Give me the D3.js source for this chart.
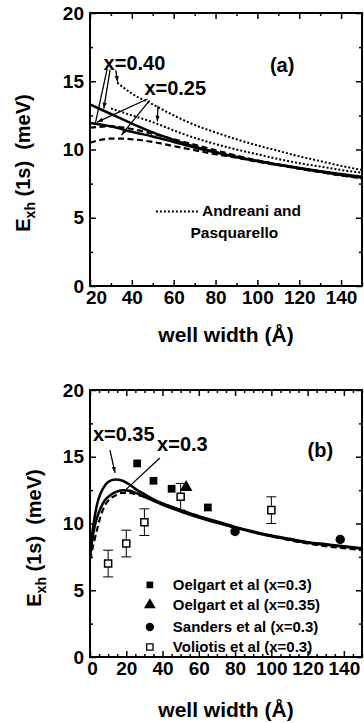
<!DOCTYPE html>
<html><head><meta charset="utf-8">
<script src="https://cdn.jsdelivr.net/npm/d3@7"></script>
<style>
html,body{margin:0;padding:0;background:#fff;}
svg{display:block;}
text{font-family:"Liberation Sans",Arial,sans-serif;font-weight:bold;fill:#000;}
</style></head><body>
<svg id="chart" width="364" height="723"></svg>
<script>
// ---------- Panel (a) data ----------
const aSolid40X = [20,30,40,50,60,70,80,90,100,110,120,130,140,150];
const aSolid40Y = [13.3,12.6,11.9,11.25,10.7,10.2,9.8,9.45,9.15,8.9,8.65,8.4,8.2,8.0];
const aSolid25X = [20,30,40,50,60,70,80,90,100,110,120,130,140,150];
const aSolid25Y = [11.95,11.7,11.3,10.95,10.55,10.15,9.8,9.45,9.15,8.88,8.62,8.38,8.15,7.95];
const aDash40X = [20,30,40,50,60,70,80,90,100,110,120,130,140,150];
const aDash40Y = [11.6,11.7,11.5,11.15,10.75,10.35,9.95,9.55,9.2,8.9,8.6,8.35,8.1,7.9];
const aDash25X = [20,25,30,35,40,50,60,70,80,90,100,110,120,130,140,150];
const aDash25Y = [10.5,10.7,10.8,10.8,10.75,10.55,10.25,9.95,9.65,9.4,9.1,8.85,8.6,8.35,8.1,7.9];
const aDot40X = [33,40,50,60,70,80,90,100,110,120,130,140,150];
const aDot40Y = [14.9,14.1,13.3,12.5,11.8,11.25,10.75,10.3,9.9,9.5,9.15,8.8,8.5];
const aDot25X = [30,40,50,60,70,80,90,100,110,120,130,140,150];
const aDot25Y = [13.0,12.5,12.0,11.4,10.85,10.4,10.0,9.65,9.3,9.0,8.75,8.5,8.3];

const aXLabels = [20,40,60,80,100,120,140];
const aXMinor = [30,50,70,90,110,130,150];
const yLabels = [0,5,10,15,20];
const yMinor = [2.5,7.5,12.5,17.5];

// ---------- Panel (b) data ----------
const bCurveX = [0,1,2,4,6,8,10,14,18,22,26,30,35,40,50,60,70,80,90,100,110,120,130,140,150];
const bSolid35Y = [7.5,9.0,10.0,11.5,12.3,12.8,13.1,13.3,13.2,12.9,12.5,12.2,11.8,11.5,11.0,10.55,10.15,9.75,9.4,9.1,8.85,8.6,8.45,8.3,8.15];
const bSolid30Y = [7.5,8.5,9.4,10.5,11.2,11.7,12.0,12.35,12.5,12.45,12.25,12.0,11.7,11.4,10.9,10.45,10.05,9.7,9.35,9.05,8.8,8.55,8.4,8.25,8.1];
const bDash30Y = [7.3,7.9,8.5,9.6,10.6,11.3,11.7,12.1,12.3,12.3,12.15,12.0,11.75,11.5,11.0,10.55,10.1,9.7,9.35,9.05,8.75,8.5,8.3,8.15,8.0];

const oelgart30X = [26,35,45,65];
const oelgart30Y = [14.5,13.2,12.6,11.2];
const oelgart35X = [53];
const oelgart35Y = [12.7];
const sandersX = [80,138];
const sandersY = [9.4,8.8];
const voliotisX = [10,20,30,50,100];
const voliotisY = [7.0,8.5,10.1,12.0,11.0];
const voliotisErr = [1,1,1,1,1];

const bXLabels = [0,20,40,60,80,100,120,140];
const bXMinor = d3.range(5,151,5).filter(v => v % 20 !== 0);

const legendB = ["Oelgart et al (x=0.3)","Oelgart et al (x=0.35)","Sanders et al (x=0.3)","Voliotis et al (x=0.3)"];

// ---------- drawing ----------
const svg = d3.select("#chart");
const FONT_TICK = 19;

function zip(xs, ys){ return xs.map((v,i)=>[v, ys[i]]); }

function drawAxes(g, x, y, xLab, xMin, left, right, top, bottom, firstShift) {
  const ax = g.append("g").attr("transform",`translate(0,${bottom})`)
    .call(d3.axisBottom(x).tickValues(xLab).tickSizeInner(-6).tickSizeOuter(0).tickPadding(5));
  ax.selectAll("text").style("font-size",FONT_TICK+"px");
  ax.selectAll(".tick").filter((d,i)=>i===0).select("text").attr("dx",firstShift);
  g.append("g").attr("transform",`translate(0,${bottom})`)
    .call(d3.axisBottom(x).tickValues(xMin).tickSizeInner(-3).tickSizeOuter(0).tickFormat(""));
  g.append("g").attr("transform",`translate(0,${top})`)
    .call(d3.axisTop(x).tickValues(xLab).tickSizeInner(-6).tickSizeOuter(0).tickFormat(""));
  g.append("g").attr("transform",`translate(0,${top})`)
    .call(d3.axisTop(x).tickValues(xMin).tickSizeInner(-3).tickSizeOuter(0).tickFormat(""));
  const ay = g.append("g").attr("transform",`translate(${left},0)`)
    .call(d3.axisLeft(y).tickValues(yLabels).tickSizeInner(-6).tickSizeOuter(0).tickPadding(6));
  ay.selectAll("text").style("font-size",FONT_TICK+"px");
  g.append("g").attr("transform",`translate(${left},0)`)
    .call(d3.axisLeft(y).tickValues(yMinor).tickSizeInner(-3).tickSizeOuter(0).tickFormat(""));
  g.append("g").attr("transform",`translate(${right},0)`)
    .call(d3.axisRight(y).tickValues(yLabels).tickSizeInner(-6).tickSizeOuter(0).tickFormat(""));
  g.append("g").attr("transform",`translate(${right},0)`)
    .call(d3.axisRight(y).tickValues(yMinor).tickSizeInner(-3).tickSizeOuter(0).tickFormat(""));
  g.selectAll(".domain").remove();
  g.selectAll(".tick line").attr("stroke","#000").attr("stroke-width",1.5);
  g.selectAll(".tick text").attr("fill","#000").style("font-family",'"Liberation Sans",Arial,sans-serif').style("font-weight","bold");
  g.append("rect").attr("x",left).attr("y",top).attr("width",right-left).attr("height",bottom-top)
    .attr("fill","none").attr("stroke","#000").attr("stroke-width",2);
}

function yTitle(g, xPos, yCenter) {
  const t = g.append("text").attr("transform",`translate(${xPos},${yCenter}) rotate(-90)`)
    .attr("text-anchor","middle").style("font-size","20px");
  t.append("tspan").text("E");
  t.append("tspan").attr("dy",5).style("font-size","14px").text("xh");
  t.append("tspan").attr("dy",-5).text(" (1s)\u00a0 (meV)");
}

function xTitle(g, xCenter, yBase) {
  g.append("text").attr("x",xCenter).attr("y",yBase).attr("text-anchor","middle")
    .style("font-size","21px").text("well width (\u00c5)");
}

// defs
const defs = svg.append("defs");
defs.append("marker").attr("id","arr").attr("viewBox","0 0 10 10").attr("refX",10).attr("refY",5)
  .attr("markerWidth",6).attr("markerHeight",6).attr("orient","auto-start-reverse")
  .attr("markerUnits","userSpaceOnUse")
  .append("path").attr("d","M0,1.5 L10,5 L0,8.5 z").attr("fill","#000");

const styles = {
  solid: {dash:null, w:2.5},
  dot: {dash:"2,2", w:2},
  dash: {dash:"6,3.5", w:2.2}
};

function curve(g, x, y, pts, st, clipId) {
  const line = d3.line().x(d=>x(d[0])).y(d=>y(d[1])).curve(d3.curveMonotoneX);
  g.append("path").datum(pts).attr("d",line).attr("fill","none").attr("stroke","#000")
    .attr("stroke-width",styles[st].w).attr("stroke-dasharray",styles[st].dash)
    .attr("clip-path",`url(#${clipId})`);
}

function arrowLine(g, x, y, p0, p1, head) {
  g.append("line").attr("x1",x(p0[0])).attr("y1",y(p0[1])).attr("x2",x(p1[0])).attr("y2",y(p1[1]))
    .attr("stroke","#000").attr("stroke-width",1.3)
    .attr("marker-end", head ? "url(#arr)" : null);
}

// ===== Panel (a) =====
{
  const L=90,R=362,T=13,B=286;
  const x = d3.scaleLinear().domain([20,150]).range([L,R]);
  const y = d3.scaleLinear().domain([0,20]).range([B,T]);
  const g = svg.append("g");
  defs.append("clipPath").attr("id","clipA").append("rect").attr("x",L).attr("y",T).attr("width",R-L).attr("height",B-T);

  curve(g,x,y,zip(aDot40X,aDot40Y),"dot","clipA");
  curve(g,x,y,zip(aDot25X,aDot25Y),"dot","clipA");
  curve(g,x,y,zip(aDash40X,aDash40Y),"dash","clipA");
  curve(g,x,y,zip(aDash25X,aDash25Y),"dash","clipA");
  curve(g,x,y,zip(aSolid40X,aSolid40Y),"solid","clipA");
  curve(g,x,y,zip(aSolid25X,aSolid25Y),"solid","clipA");

  drawAxes(g,x,y,aXLabels,aXMinor,L,R,T,B,6);

  // annotations
  g.append("text").attr("x",x(26.5)).attr("y",y(15.85)).style("font-size","20px").text("x=0.40");
  g.append("text").attr("x",x(46)).attr("y",y(14.0)).style("font-size","20px").text("x=0.25");
  g.append("text").attr("x",x(106)).attr("y",y(15.7)).style("font-size","20px").text("(a)");
  arrowLine(g,x,y,[28.2,15.9],[22.6,11.95],false);
  arrowLine(g,x,y,[29.6,15.85],[26.6,13.0],true);
  arrowLine(g,x,y,[32.3,15.8],[33.2,14.95],true);
  arrowLine(g,x,y,[47.5,13.7],[23.4,12.0],true);
  arrowLine(g,x,y,[48.5,13.6],[35,11.05],true);
  arrowLine(g,x,y,[52.5,13.2],[52.2,12.05],true);

  // legend
  g.append("line").attr("x1",x(51.5)).attr("x2",x(72.5)).attr("y1",y(5.45)).attr("y2",y(5.45))
    .attr("stroke","#000").attr("stroke-width",2).attr("stroke-dasharray","2,2");
  g.append("text").attr("x",x(73.5)).attr("y",y(5.1)).style("font-size","15.5px").text("Andreani and");
  g.append("text").attr("x",x(89)).attr("y",y(3.5)).attr("text-anchor","middle").style("font-size","15.5px").text("Pasquarello");

  yTitle(g, 30, 163);
  xTitle(g, 226, 342);
}

// ===== Panel (b) =====
{
  const L=90,R=362,T=390,B=657;
  const x = d3.scaleLinear().domain([0,150]).range([L,R]);
  const y = d3.scaleLinear().domain([0,20]).range([B,T]);
  const g = svg.append("g");
  defs.append("clipPath").attr("id","clipB").append("rect").attr("x",L).attr("y",T).attr("width",R-L).attr("height",B-T);

  curve(g,x,y,zip(bCurveX,bDash30Y),"dash","clipB");
  curve(g,x,y,zip(bCurveX,bSolid30Y),"solid","clipB");
  curve(g,x,y,zip(bCurveX,bSolid35Y),"solid","clipB");

  drawAxes(g,x,y,bXLabels,bXMinor,L,R,T,B,2);

  // error bars + open squares (Voliotis)
  const vd = voliotisX.map((v,i)=>({x:v,y:voliotisY[i],e:voliotisErr[i]}));
  const eb = g.append("g");
  vd.forEach(d=>{
    eb.append("line").attr("x1",x(d.x)).attr("x2",x(d.x)).attr("y1",y(d.y-d.e)).attr("y2",y(d.y+d.e)).attr("stroke","#000").attr("stroke-width",1);
    [d.y-d.e,d.y+d.e].forEach(v=>{
      eb.append("line").attr("x1",x(d.x)-5).attr("x2",x(d.x)+5).attr("y1",y(v)).attr("y2",y(v)).attr("stroke","#000").attr("stroke-width",1);
    });
  });
  const sq = d3.symbol().type(d3.symbolSquare).size(50);
  g.selectAll(".vol").data(vd).join("path").attr("d",sq)
    .attr("transform",d=>`translate(${x(d.x)},${y(d.y)})`).attr("fill","#fff").attr("stroke","#000").attr("stroke-width",1.5);

  const fsq = d3.symbol().type(d3.symbolSquare).size(60);
  g.selectAll(".oel30").data(zip(oelgart30X,oelgart30Y)).join("path").attr("d",fsq)
    .attr("transform",d=>`translate(${x(d[0])},${y(d[1])})`).attr("fill","#000");
  const tri = d3.symbol().type(d3.symbolTriangle).size(70);
  g.selectAll(".oel35").data(zip(oelgart35X,oelgart35Y)).join("path").attr("d",tri)
    .attr("transform",d=>`translate(${x(d[0])},${y(d[1])})`).attr("fill","#000");
  const circ = d3.symbol().type(d3.symbolCircle).size(70);
  g.selectAll(".san").data(zip(sandersX,sandersY)).join("path").attr("d",circ)
    .attr("transform",d=>`translate(${x(d[0])},${y(d[1])})`).attr("fill","#000");

  // annotations
  g.append("text").attr("x",x(1.6)).attr("y",y(16.2)).style("font-size","20px").text("x=0.35");
  g.append("text").attr("x",x(37)).attr("y",y(15.45)).style("font-size","20px").text("x=0.3");
  g.append("text").attr("x",x(120)).attr("y",y(15.0)).style("font-size","20px").text("(b)");
  arrowLine(g,x,y,[11,15.5],[13.8,13.8],true);
  arrowLine(g,x,y,[38.5,14.9],[19.5,12.5],false);

  // legend
  const lx = x(33), tx = x(45.7);
  const rows = [y(5.4), y(3.9), y(2.25), y(0.75)];
  g.append("path").attr("d",d3.symbol().type(d3.symbolSquare).size(45)).attr("transform",`translate(${lx},${rows[0]})`).attr("fill","#000");
  g.append("path").attr("d",d3.symbol().type(d3.symbolTriangle).size(60)).attr("transform",`translate(${lx},${rows[1]})`).attr("fill","#000");
  g.append("path").attr("d",d3.symbol().type(d3.symbolCircle).size(55)).attr("transform",`translate(${lx},${rows[2]})`).attr("fill","#000");
  g.append("path").attr("d",d3.symbol().type(d3.symbolSquare).size(40)).attr("transform",`translate(${lx},${rows[3]})`).attr("fill","#fff").attr("stroke","#000").attr("stroke-width",1.3);
  legendB.forEach((t,i)=>{
    g.append("text").attr("x",tx).attr("y",rows[i]+5.5).style("font-size","15px").text(t);
  });

  yTitle(g, 41, 538);
  xTitle(g, 226, 717);
}
</script>
</body></html>
